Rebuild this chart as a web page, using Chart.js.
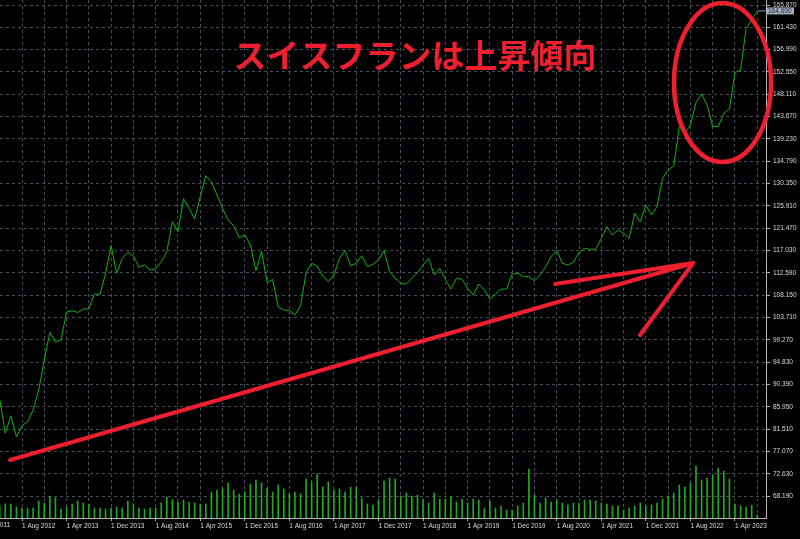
<!DOCTYPE html>
<html>
<head>
<meta charset="utf-8">
<script src="https://cdn.jsdelivr.net/npm/chart.js@4.4.0/dist/chart.umd.min.js"></script>
<style>
  html, body { margin: 0; padding: 0; background: #000; }
  canvas { display: block; }
</style>
</head>
<body>
<canvas id="canvas" width="800" height="539"></canvas>
<script>
// CHF/JPY monthly, first month = Apr 2012 (index 0)
var firstMonth = 'Apr 2012';

var closes = [
  87.44, 80.67, 84.11, 80.00, 82.18, 82.98, 85.31, 89.29, 95.25, 100.76,
  98.83, 99.23, 104.80, 105.06, 104.70, 105.40, 105.40, 108.38, 108.28, 112.50,
  117.99, 112.50, 115.48, 116.68, 115.94, 113.69, 114.15, 113.16, 113.41, 114.81,
  116.80, 122.76, 120.78, 127.34, 125.43, 123.30, 127.74, 131.91, 130.72, 128.08,
  125.43, 123.10, 121.97, 119.58, 120.12, 118.13, 113.02, 116.88, 110.67, 111.27,
  105.80, 105.20, 105.06, 104.21, 106.00, 112.62, 114.49, 113.95, 111.96, 110.83,
  112.16, 115.54, 117.00, 114.01, 114.49, 116.00, 113.81, 114.29, 115.15, 117.00,
  112.82, 111.51, 110.51, 110.37, 111.51, 112.62, 114.15, 115.48, 112.16, 113.49,
  111.31, 109.38, 111.51, 111.31, 109.52, 108.18, 110.37, 109.18, 107.33, 108.38,
  109.32, 109.38, 112.36, 112.50, 111.82, 111.82, 110.97, 112.16, 113.81, 115.84,
  117.08, 114.49, 114.15, 114.69, 116.60, 117.47, 117.27, 117.27, 119.46, 121.77,
  120.12, 121.11, 120.46, 119.46, 124.43, 122.76, 126.09, 124.10, 125.75, 131.40,
  133.05, 133.84, 141.66, 140.35, 142.00, 146.43, 148.17, 145.98, 141.66, 141.70,
  144.33, 145.18, 152.40, 152.94, 161.24, 162.89, 164.69
];

var volumes = [
  12, 14, 14, 11, 10, 10, 10, 17, 15, 22,
  20, 9, 11, 14, 17, 15, 14, 10, 10, 9,
  10, 11, 10, 17, 14, 10, 9, 10, 10, 15,
  21, 18, 16, 18, 16, 15, 14, 14, 26, 28,
  30, 35, 28, 24, 26, 34, 38, 35, 30, 26,
  33, 29, 24, 26, 24, 39, 35, 44, 31, 36,
  28, 29, 26, 31, 31, 20, 14, 13, 18, 37,
  40, 39, 22, 25, 22, 23, 18, 15, 25, 19,
  19, 21, 16, 19, 15, 19, 18, 10, 17, 10,
  12, 8, 8, 12, 15, 49, 23, 15, 20, 16,
  18, 15, 13, 15, 15, 18, 18, 17, 15, 14,
  12, 12, 8, 10, 12, 15, 12, 13, 15, 19,
  22, 25, 33, 31, 35, 52, 38, 40, 43, 50,
  47, 39, 14, 12, 11, 13, 3
];

var priceTicks = [68.19, 72.63, 77.07, 81.51, 85.95, 90.39, 94.83, 99.27, 103.71, 108.15,
  112.59, 117.03, 121.47, 125.91, 130.35, 134.79, 139.23, 143.67, 148.11, 152.55,
  156.99, 161.43, 165.87];

var dateLabels = ['1 Aug 2012', '1 Apr 2013', '1 Dec 2013', '1 Aug 2014', '1 Apr 2015',
  '1 Dec 2015', '1 Aug 2016', '1 Apr 2017', '1 Dec 2017', '1 Aug 2018', '1 Apr 2019',
  '1 Dec 2019', '1 Aug 2020', '1 Apr 2021', '1 Dec 2021', '1 Aug 2022', '1 Apr 2023'];
var cutLabel = '1 Dec 2011'; // sits left of the first month, only its end shows

var bidPrice = 164.69;
var title = 'スイスフランは上昇傾向';

var xMin = 0.05, xMax = 137.57;
var yMin = 63.82, yMax = 166.865;

var red = '#ee1f2e';
var gridColor = '#464d5a';
var axisColor = '#b4b4b4';
var textColor = '#dcdcdc';
var tickFont = { family: 'Liberation Sans', size: 6.5 };

// annotation shapes in data units (month index, price)
var arrowTail = { x: 1.85, y: 75.36 };
var arrowTip = { x: 124.5, y: 114.55 };
var arrowWings = [{ x: 99.7, y: 110.37 }, { x: 114.95, y: 100.23 }];
var circle = { x: 129.76, y: 150.45, rx: 8.71, ry: 15.81 };
var titlePos = { x: 74.56, y: 155.92 };

var gridMonths = [];
for (var m = 4; m <= 136; m += 4) gridMonths.push(m);

function isLabelMonth(v) { return (v - 4) % 8 === 0; }

var overlay = {
  id: 'overlay',
  beforeDraw: function (chart) {
    var ctx = chart.ctx;
    ctx.save();
    ctx.fillStyle = '#000';
    ctx.fillRect(0, 0, chart.width, chart.height);
    ctx.restore();
  },
  afterDraw: function (chart) {
    var ctx = chart.ctx;
    var xs = chart.scales.x, ys = chart.scales.y;
    function px(v) { return xs.getPixelForValue(v); }
    function py(v) { return ys.getPixelForValue(v); }

    ctx.save();
    // label of the month before the window
    ctx.fillStyle = textColor;
    ctx.font = '6.5px "Liberation Sans"';
    ctx.textBaseline = 'middle';
    ctx.fillText(cutLabel, px(-4), chart.chartArea.bottom + 7.5);

    // current price box
    var by = py(bidPrice);
    ctx.fillStyle = '#a3adbd';
    ctx.fillRect(chart.chartArea.right + 1, by - 3.5, 27, 7);
    ctx.fillStyle = '#1b2535';
    ctx.fillText(bidPrice.toFixed(3), chart.chartArea.right + 2, by);

    // arrow
    ctx.strokeStyle = red;
    ctx.lineWidth = 4;
    ctx.lineCap = 'round';
    ctx.beginPath();
    ctx.moveTo(px(arrowTail.x), py(arrowTail.y));
    ctx.lineTo(px(arrowTip.x), py(arrowTip.y));
    arrowWings.forEach(function (w) {
      ctx.moveTo(px(w.x), py(w.y));
      ctx.lineTo(px(arrowTip.x), py(arrowTip.y));
    });
    ctx.stroke();

    // ellipse
    ctx.lineWidth = 4.5;
    ctx.beginPath();
    var cx = px(circle.x), cy = py(circle.y);
    ctx.ellipse(cx, cy, px(circle.x + circle.rx) - cx, py(circle.y - circle.ry) - cy, 0, 0, Math.PI * 2);
    ctx.stroke();

    // title
    ctx.fillStyle = red;
    ctx.font = 'bold 33px "Noto Sans CJK JP"';
    ctx.textAlign = 'center';
    ctx.textBaseline = 'middle';
    ctx.fillText(title, px(titlePos.x), py(titlePos.y));
    ctx.restore();
  }
};

const ctx = document.getElementById('canvas').getContext('2d');
const myChart = new Chart(ctx, {
  data: {
    datasets: [{
      type: 'bar',
      yAxisID: 'vol',
      data: volumes.map(function (v, i) { return { x: i, y: v }; }),
      backgroundColor: '#22a822',
      barThickness: 1,
      borderWidth: 0,
      order: 3
    }, {
      type: 'line',
      yAxisID: 'y',
      data: [{ x: closes.length - 1, y: bidPrice }, { x: xMax, y: bidPrice }],
      borderColor: '#8c98aa',
      borderWidth: 1,
      pointRadius: 0,
      order: 2
    }, {
      type: 'line',
      yAxisID: 'y',
      data: closes.map(function (v, i) { return { x: i, y: v }; }),
      borderColor: '#12b012',
      borderWidth: 1,
      pointRadius: 0,
      tension: 0,
      order: 1
    }]
  },
  options: {
    responsive: false,
    animation: false,
    events: [],
    layout: { padding: 0 },
    plugins: { legend: { display: false }, tooltip: { enabled: false } },
    scales: {
      x: {
        type: 'linear',
        min: xMin,
        max: xMax,
        offset: false,
        afterBuildTicks: function (scale) {
          scale.ticks = gridMonths.map(function (v) { return { value: v }; });
        },
        afterFit: function (scale) {
          scale.height = 21;
          scale.paddingLeft = 0;
          scale.paddingRight = 0;
        },
        ticks: {
          autoSkip: false,
          maxRotation: 0,
          minRotation: 0,
          align: 'start',
          padding: 1,
          color: textColor,
          font: tickFont,
          callback: function (v) {
            return isLabelMonth(v) ? dateLabels[(v - 4) / 8] : '';
          }
        },
        grid: {
          offset: false,
          color: gridColor,
          lineWidth: 1,
          tickLength: 3,
          tickBorderDash: [],
          tickColor: function (c) {
            return c.tick && isLabelMonth(c.tick.value) ? axisColor : 'rgba(0,0,0,0)';
          }
        },
        border: { display: true, color: axisColor, width: 1, dash: [3, 3] }
      },
      y: {
        type: 'linear',
        position: 'right',
        min: yMin,
        max: yMax,
        afterBuildTicks: function (scale) {
          scale.ticks = priceTicks.map(function (v) { return { value: v }; });
        },
        afterFit: function (scale) {
          scale.width = 34;
          scale.paddingTop = 0;
          scale.paddingBottom = 0;
        },
        ticks: {
          autoSkip: false,
          padding: 3,
          color: textColor,
          font: tickFont,
          callback: function (v) { return Number(v).toFixed(3); }
        },
        grid: {
          color: gridColor,
          lineWidth: 1,
          tickLength: 4,
          tickBorderDash: [],
          tickColor: axisColor
        },
        border: { display: true, color: axisColor, width: 1, dash: [3, 3] }
      },
      vol: {
        display: false,
        min: 0,
        max: 518
      }
    }
  },
  plugins: [overlay]
});
</script>
</body>
</html>
